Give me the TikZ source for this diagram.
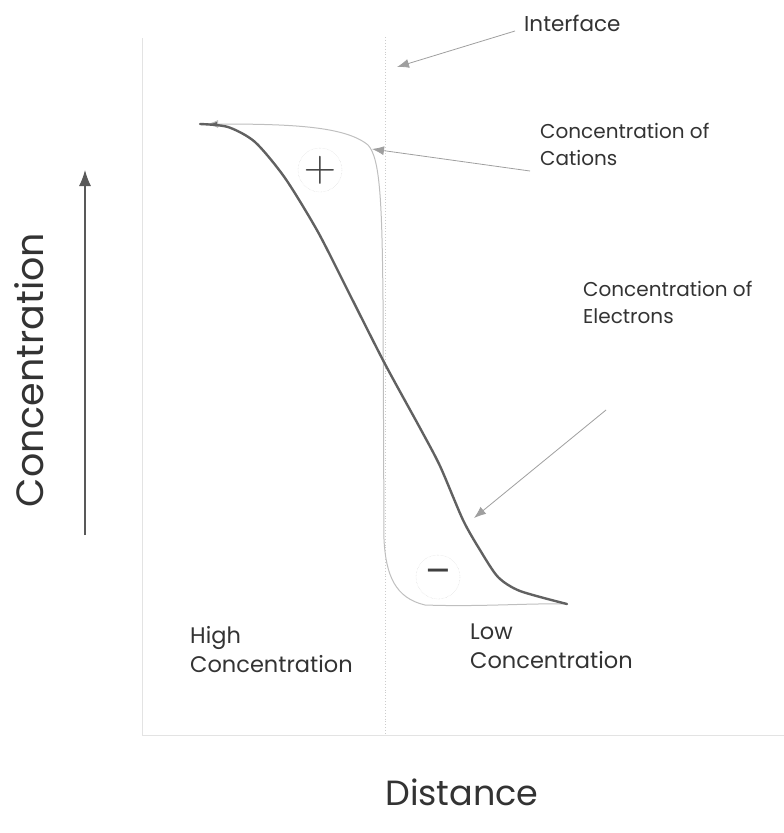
\documentclass[tikz,border=0pt]{standalone}
\usepackage{fontspec}
\setmainfont{Poppins}
\usetikzlibrary{arrows.meta,positioning}
\colorlet{axisgray}{gray!22}
\colorlet{ptrgray}{gray!75}
\colorlet{curvegray}{black!62}
\colorlet{labelgray}{black!80}
\tikzset{
    axsty/.style={draw=axisgray, line width=0.9pt},
    ifsty/.style={draw=gray!40, dotted, line width=0.9pt},
    elsty/.style={draw=curvegray, line width=2.4pt, line join=round, line cap=round},
    casty/.style={draw=gray!50, line width=1pt, line join=round},
    ptrsty/.style={draw=ptrgray, line width=0.8pt, -{Latex[length=12pt,width=9pt]}},
    txtsty/.style={font=\fontsize{20}{27}\selectfont, text=labelgray, align=left, inner sep=0pt, anchor=base west},
    bottxtsty/.style={txtsty, font=\fontsize{22.5}{29}\selectfont},
    bigsty/.style={font=\fontsize{38}{44}\selectfont, text=labelgray, inner sep=0pt},
    signsty/.style={circle, draw=gray!35, densely dotted, minimum size=44pt, inner sep=0pt, text=black!75, font=\fontsize{38}{38}\selectfont},
}

\begin{document}
\begin{tikzpicture}[x=1pt,y=-1pt]
\useasboundingbox (0,0) rectangle (784,833);
% axes and interface
\coordinate (origin) at (142,735);
\coordinate (ytop) at (142,38);
\coordinate (xend) at (784,735);
\draw[axsty] (ytop) -- (origin) -- (xend);
\coordinate (iftop) at (385,37);
\coordinate (ifbot) at (385,735);
\draw[ifsty] (iftop) -- (ifbot);
% concentration of cations
\draw[casty, {Latex[length=11pt,width=8pt,fill=black!60]}-]
  (207,124) .. controls (290,124) and (345,126) .. (368,145)
  .. controls (380,158) and (382,200) .. (383,300)
  -- (384,540) .. controls (386,575) and (395,598) .. (425,605)
  .. controls (480,607) and (530,603) .. (567,604);
% concentration of electrons
\draw[elsty] plot[smooth, tension=0.45] coordinates {
  (200,124) (228,127) (255,142) (285,178) (318,232) (350,295)
  (385,364) (420,428) (440,466) (463,520) (480,550) (498,577)
  (520,591) (567,604)};
% charges
\node[signsty] (plus) at (320,170) {\scalebox{1.8}{$+$}};
\node[signsty] (minus) at (438,577) {–};
% labels
\node[txtsty, font=\fontsize{21.5}{27}\selectfont] (iflbl) at (524,31) {Interface};
\node[txtsty] (calbl) at (540,165) {Concentration of\\Cations};
\node[txtsty] (ellbl) at (583,323) {Concentration of\\Electrons};
\node[bottxtsty] (hilbl) at (190,672) {High\\Concentration};
\node[bottxtsty] (lolbl) at (470,668) {Low\\Concentration};
\node[bigsty, rotate=90] (ylbl) at (29,370) {Concentration};
\node[bigsty, font=\fontsize{35}{40}\selectfont] (xlbl) at (462,792) {Distance};
% pointers
\coordinate (iftail) at (515,31);
\coordinate (iftip) at (397,67);
\coordinate (catail) at (530,171);
\coordinate (catip) at (372,149);
\coordinate (eltail) at (606,410);
\coordinate (eltip) at (474,518);
\draw[ptrsty] (iftail) -- (iftip);
\draw[ptrsty] (catail) -- (catip);
\draw[ptrsty] (eltail) -- (eltip);
% concentration arrow
\coordinate (upbot) at (85,535);
\coordinate (uptop) at (85,170);
\draw[draw=black!65, line width=1.2pt, -{Latex[length=16pt,width=12pt]}] (upbot) -- (uptop);
\end{tikzpicture}
\end{document}
